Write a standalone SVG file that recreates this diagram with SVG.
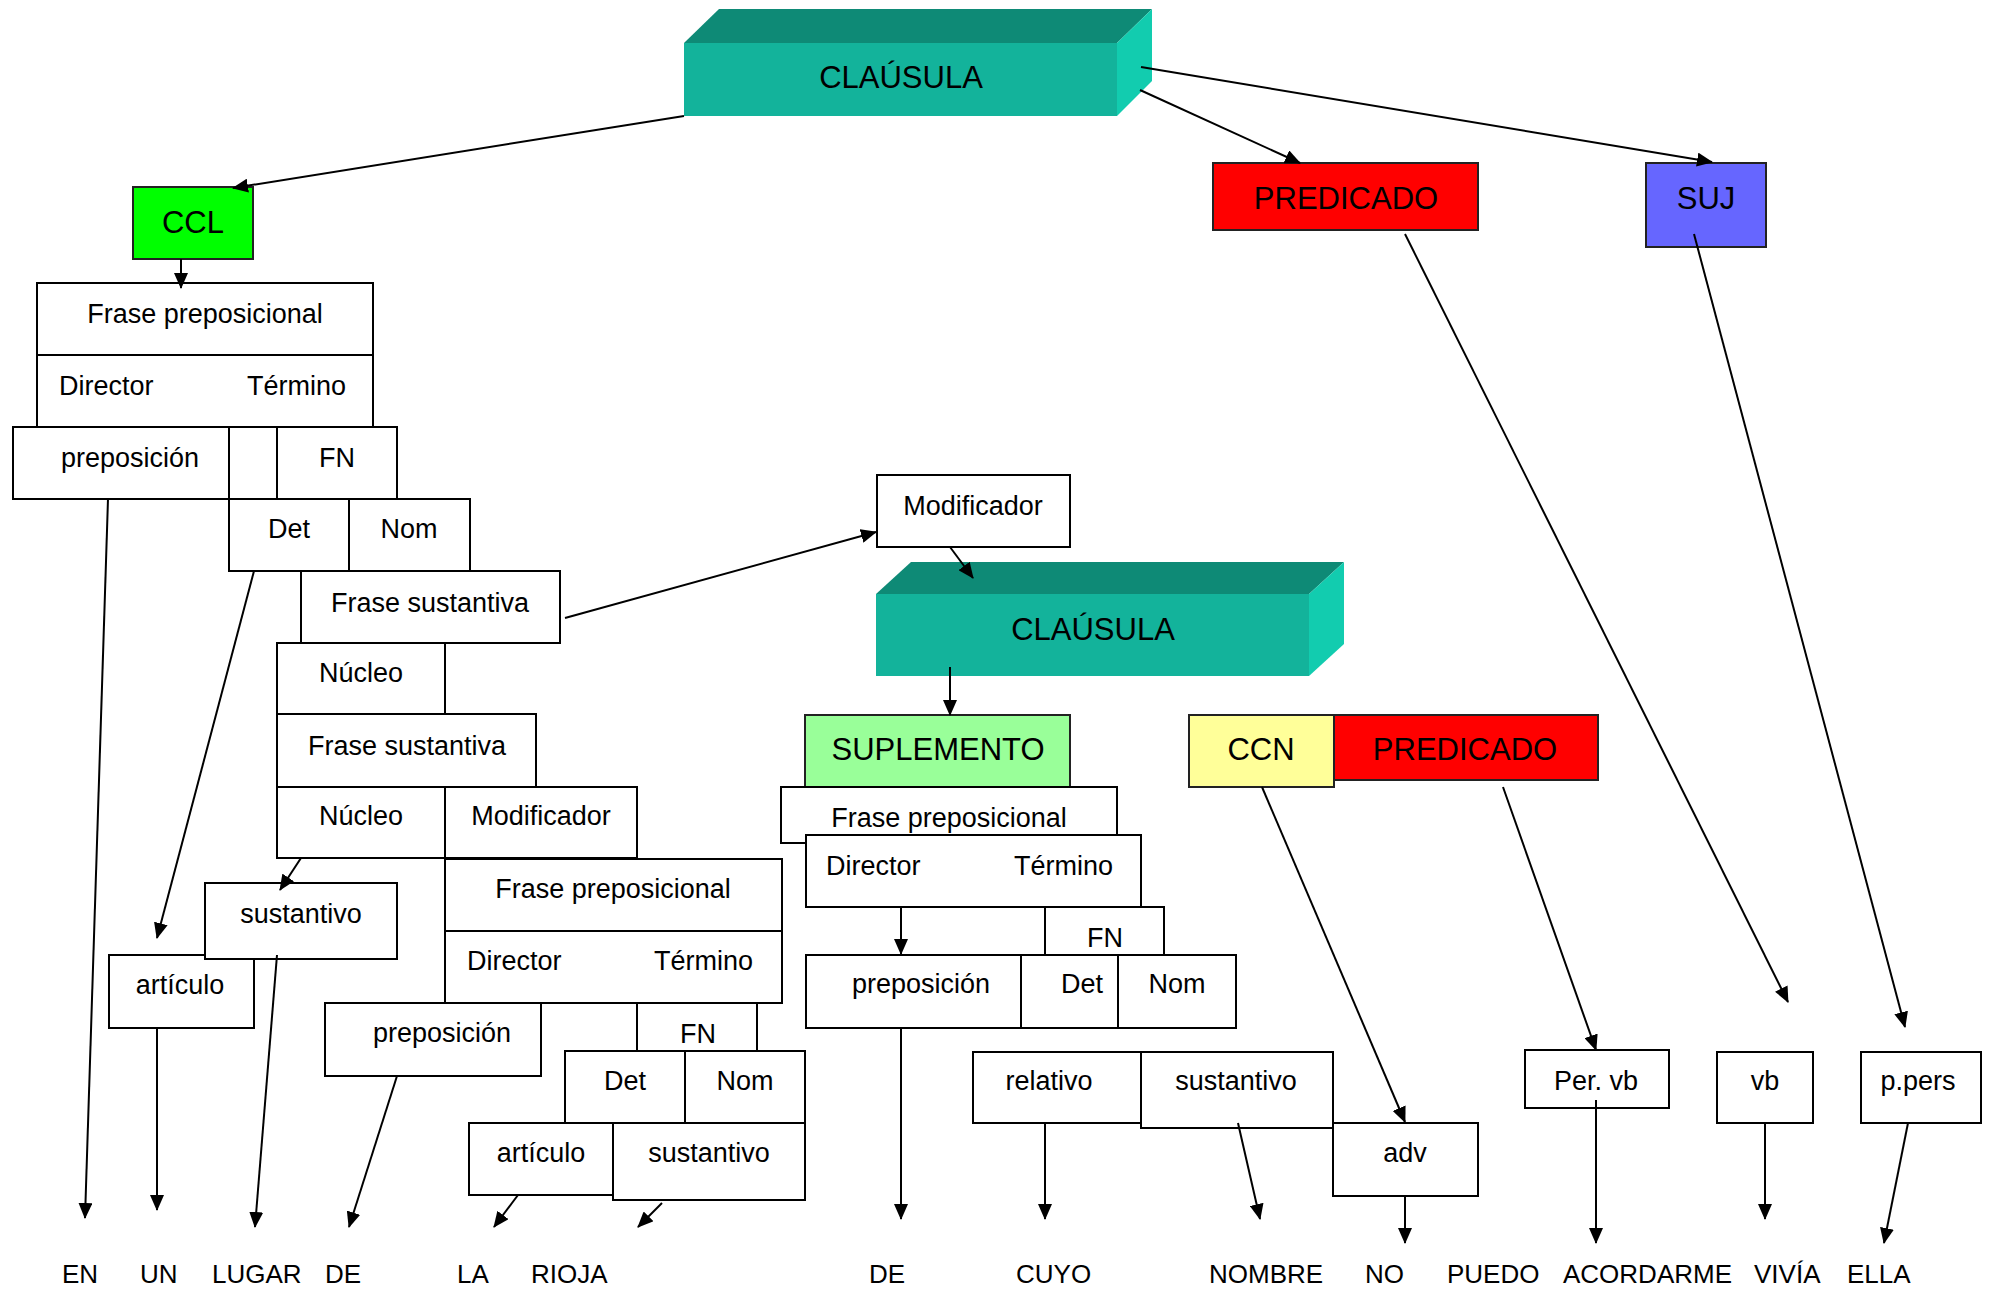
<svg xmlns="http://www.w3.org/2000/svg" width="1993" height="1292" viewBox="0 0 1993 1292">
<style>
.box{fill:#fff;stroke:#000;stroke-width:2}
.cb{stroke:#222;stroke-width:2}
text{font-family:"Liberation Sans",Arial,sans-serif;fill:#000}
.l{font-size:27px}
.c{text-anchor:middle}
.h{font-size:31px}
.w{font-size:26px}
.front{fill:#13B39B}
.top{fill:#0E8A76}
.side{fill:#12CCAF}
#connectors line{stroke:#000;stroke-width:2;marker-end:url(#ah)}
</style>
<defs>
<marker id="ah" markerWidth="16" markerHeight="14" refX="15" refY="7" orient="auto" markerUnits="userSpaceOnUse">
<path d="M0,0 L16,7 L0,14 z" fill="#000"/>
</marker>
</defs>
<rect width="1993" height="1292" fill="#fff"/>

<g id="clausula1">
<polygon class="top" points="684,43 719,9 1152,9 1117,43"/>
<polygon class="side" points="1117,43 1152,9 1152,81 1117,116"/>
<rect class="front" x="684" y="43" width="433" height="73"/>
<text class="h c" x="901" y="88" font-size="32">CLAÚSULA</text>
</g>

<g id="ccl">
<rect class="cb" x="133" y="187" width="120" height="72" fill="#00FF00"/>
<text class="h c" x="193" y="233">CCL</text>
</g>

<g id="predicado1">
<rect class="cb" x="1213" y="163" width="265" height="67" fill="#FF0000"/>
<text class="h c" x="1346" y="209">PREDICADO</text>
</g>

<g id="suj">
<rect class="cb" x="1646" y="163" width="120" height="84" fill="#6666FF"/>
<text class="h c" x="1706" y="209">SUJ</text>
</g>

<g id="frase-prep1">
<rect class="box" x="37" y="283" width="336" height="144"/>
<line x1="37" y1="355" x2="373" y2="355" stroke="#000" stroke-width="2"/>
<text class="l c" x="205" y="323">Frase preposicional</text>
<text class="l" x="59" y="395">Director</text>
<text class="l" x="247" y="395">Término</text>
</g>

<g id="preposicion1">
<rect class="box" x="13" y="427" width="216" height="72"/>
<text class="l c" x="130" y="467">preposición</text>
</g>
<g id="cell1">
<rect class="box" x="229" y="427" width="48" height="72"/>
</g>
<g id="fn1">
<rect class="box" x="277" y="427" width="120" height="72"/>
<text class="l c" x="337" y="467">FN</text>
</g>

<g id="det1">
<rect class="box" x="229" y="499" width="120" height="72"/>
<text class="l c" x="289" y="538">Det</text>
</g>
<g id="nom1">
<rect class="box" x="349" y="499" width="121" height="72"/>
<text class="l c" x="409" y="538">Nom</text>
</g>

<g id="frase-sust1">
<rect class="box" x="301" y="571" width="259" height="72"/>
<text class="l c" x="430" y="612">Frase sustantiva</text>
</g>
<g id="nucleo1">
<rect class="box" x="277" y="643" width="168" height="71"/>
<text class="l c" x="361" y="682">Núcleo</text>
</g>
<g id="frase-sust2">
<rect class="box" x="277" y="714" width="259" height="73"/>
<text class="l c" x="407" y="755">Frase sustantiva</text>
</g>
<g id="nucleo2">
<rect class="box" x="277" y="787" width="168" height="71"/>
<text class="l c" x="361" y="825">Núcleo</text>
</g>
<g id="modificador1">
<rect class="box" x="445" y="787" width="192" height="71"/>
<text class="l c" x="541" y="825">Modificador</text>
</g>

<g id="articulo1">
<rect class="box" x="109" y="955" width="145" height="73"/>
<text class="l c" x="180" y="994">artículo</text>
</g>
<g id="sustantivo1">
<rect class="box" x="205" y="883" width="192" height="76"/>
<text class="l c" x="301" y="923">sustantivo</text>
</g>

<g id="frase-prep2">
<rect class="box" x="445" y="859" width="337" height="144"/>
<line x1="445" y1="931" x2="782" y2="931" stroke="#000" stroke-width="2"/>
<text class="l c" x="613" y="898">Frase preposicional</text>
<text class="l" x="467" y="970">Director</text>
<text class="l" x="654" y="970">Término</text>
</g>
<g id="preposicion2">
<rect class="box" x="325" y="1003" width="216" height="73"/>
<text class="l c" x="442" y="1042">preposición</text>
</g>
<g id="fn2">
<rect class="box" x="637" y="1003" width="120" height="48"/>
<text class="l c" x="698" y="1043">FN</text>
</g>
<g id="det2">
<rect class="box" x="565" y="1051" width="120" height="72"/>
<text class="l c" x="625" y="1090">Det</text>
</g>
<g id="nom2">
<rect class="box" x="685" y="1051" width="120" height="72"/>
<text class="l c" x="745" y="1090">Nom</text>
</g>
<g id="articulo2">
<rect class="box" x="469" y="1123" width="144" height="72"/>
<text class="l c" x="541" y="1162">artículo</text>
</g>
<g id="sustantivo2">
<rect class="box" x="613" y="1123" width="192" height="77"/>
<text class="l c" x="709" y="1162">sustantivo</text>
</g>

<g id="modificador2">
<rect class="box" x="877" y="475" width="193" height="72"/>
<text class="l c" x="973" y="515">Modificador</text>
</g>

<g id="clausula2">
<polygon class="top" points="876,594 911,562 1344,562 1309,594"/>
<polygon class="side" points="1309,594 1344,562 1344,644 1309,676"/>
<rect class="front" x="876" y="594" width="433" height="82"/>
<text class="h c" x="1093" y="640" font-size="32">CLAÚSULA</text>
</g>

<g id="suplemento">
<rect class="cb" x="805" y="715" width="265" height="72" fill="#99FF99"/>
<text class="h c" x="938" y="760">SUPLEMENTO</text>
</g>
<g id="ccn">
<rect class="cb" x="1189" y="715" width="145" height="72" fill="#FFFF99"/>
<text class="h c" x="1261" y="760">CCN</text>
</g>
<g id="predicado2">
<rect class="cb" x="1334" y="715" width="264" height="65" fill="#FF0000"/>
<text class="h c" x="1465" y="760">PREDICADO</text>
</g>

<g id="frase-prep3">
<rect class="box" x="781" y="787" width="336" height="56"/>
<text class="l c" x="949" y="827">Frase preposicional</text>
</g>
<g id="dir-term3">
<rect class="box" x="806" y="835" width="335" height="72"/>
<text class="l" x="826" y="875">Director</text>
<text class="l" x="1014" y="875">Término</text>
</g>
<g id="fn3">
<rect class="box" x="1045" y="907" width="119" height="48"/>
<text class="l c" x="1105" y="947">FN</text>
</g>
<g id="preposicion3">
<rect class="box" x="806" y="955" width="215" height="73"/>
<text class="l c" x="921" y="993">preposición</text>
</g>
<g id="det3">
<rect class="box" x="1021" y="955" width="97" height="73"/>
<text class="l c" x="1082" y="993">Det</text>
</g>
<g id="nom3">
<rect class="box" x="1118" y="955" width="118" height="73"/>
<text class="l c" x="1177" y="993">Nom</text>
</g>

<g id="relativo">
<rect class="box" x="973" y="1052" width="168" height="71"/>
<text class="l c" x="1049" y="1090">relativo</text>
</g>
<g id="sustantivo3">
<rect class="box" x="1141" y="1052" width="192" height="76"/>
<text class="l c" x="1236" y="1090">sustantivo</text>
</g>
<g id="adv">
<rect class="box" x="1333" y="1123" width="145" height="73"/>
<text class="l c" x="1405" y="1162">adv</text>
</g>
<g id="per-vb">
<rect class="box" x="1525" y="1050" width="144" height="58"/>
<text class="l c" x="1596" y="1090">Per. vb</text>
</g>
<g id="vb">
<rect class="box" x="1717" y="1052" width="96" height="71"/>
<text class="l c" x="1765" y="1090">vb</text>
</g>
<g id="p-pers">
<rect class="box" x="1861" y="1052" width="120" height="71"/>
<text class="l c" x="1918" y="1090">p.pers</text>
</g>

<g id="words">
<text class="w" x="62" y="1283">EN</text>
<text class="w" x="140" y="1283">UN</text>
<text class="w" x="212" y="1283">LUGAR</text>
<text class="w" x="325" y="1283">DE</text>
<text class="w" x="457" y="1283">LA</text>
<text class="w" x="531" y="1283">RIOJA</text>
<text class="w" x="869" y="1283">DE</text>
<text class="w" x="1016" y="1283">CUYO</text>
<text class="w" x="1209" y="1283">NOMBRE</text>
<text class="w" x="1365" y="1283">NO</text>
<text class="w" x="1447" y="1283">PUEDO</text>
<text class="w" x="1563" y="1283">ACORDARME</text>
<text class="w" x="1754" y="1283">VIVÍA</text>
<text class="w" x="1847" y="1283">ELLA</text>
</g>

<g id="connectors">
<line x1="684" y1="116" x2="233" y2="188"/>
<line x1="1140" y1="90" x2="1300" y2="163"/>
<line x1="1141" y1="67" x2="1712" y2="162"/>
<line x1="181" y1="259" x2="181" y2="288"/>
<line x1="108" y1="499" x2="85" y2="1218"/>
<line x1="254" y1="571" x2="157" y2="938"/>
<line x1="157" y1="1028" x2="157" y2="1210"/>
<line x1="301" y1="858" x2="280" y2="890"/>
<line x1="277" y1="955" x2="255" y2="1227"/>
<line x1="565" y1="618" x2="876" y2="532"/>
<line x1="950" y1="547" x2="973" y2="578"/>
<line x1="397" y1="1076" x2="349" y2="1227"/>
<line x1="518" y1="1195" x2="494" y2="1227"/>
<line x1="662" y1="1203" x2="638" y2="1227"/>
<line x1="950" y1="667" x2="950" y2="715"/>
<line x1="901" y1="907" x2="901" y2="954"/>
<line x1="901" y1="1028" x2="901" y2="1219"/>
<line x1="1045" y1="1123" x2="1045" y2="1219"/>
<line x1="1238" y1="1123" x2="1260" y2="1219"/>
<line x1="1405" y1="1196" x2="1405" y2="1243"/>
<line x1="1262" y1="787" x2="1405" y2="1122"/>
<line x1="1503" y1="787" x2="1596" y2="1050"/>
<line x1="1596" y1="1100" x2="1596" y2="1243"/>
<line x1="1765" y1="1123" x2="1765" y2="1219"/>
<line x1="1908" y1="1123" x2="1884" y2="1243"/>
<line x1="1405" y1="234" x2="1788" y2="1002"/>
<line x1="1694" y1="234" x2="1905" y2="1027"/>
</g>
</svg>
